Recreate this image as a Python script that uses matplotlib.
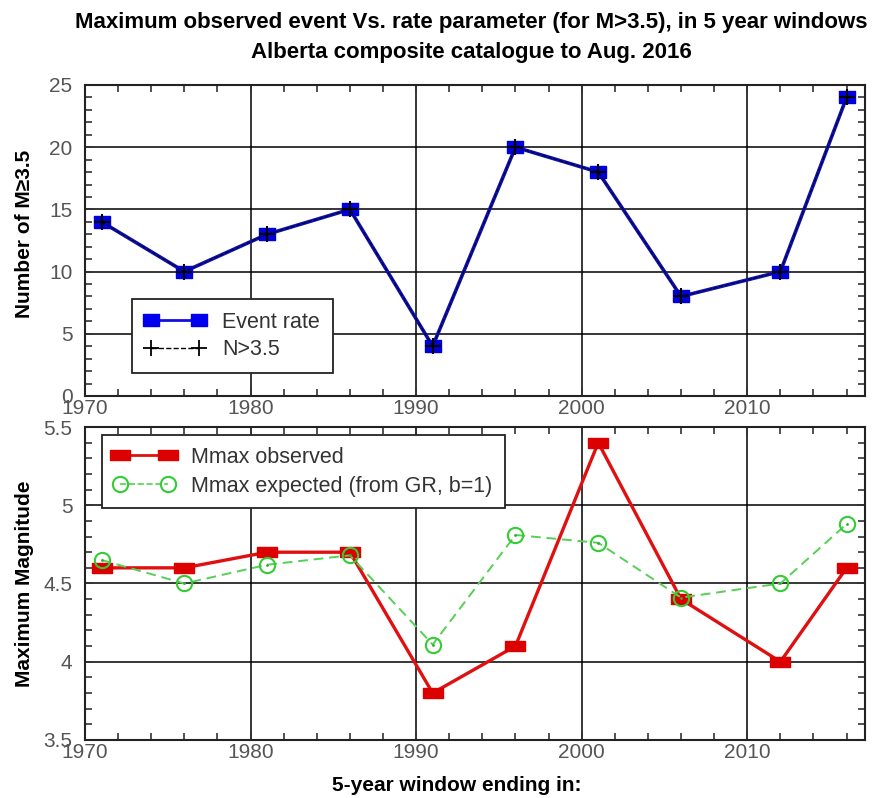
import matplotlib
matplotlib.use("Agg")
import matplotlib.pyplot as plt
from matplotlib.ticker import MultipleLocator
from matplotlib.lines import Line2D

plt.rcParams['font.family'] = ['Liberation Sans', 'DejaVu Sans']

years = [1971, 1976, 1981, 1986, 1991, 1996, 2001, 2006, 2012, 2016]
event_rate = [14, 10, 13, 15, 4, 20, 18, 8, 10, 24]
n_gt = [14, 10, 13, 15, 4, 20, 18, 8, 10, 24]
mmax_obs = [4.6, 4.6, 4.7, 4.7, 3.8, 4.1, 5.4, 4.4, 4.0, 4.6]
mmax_exp = [4.65, 4.50, 4.62, 4.68, 4.11, 4.81, 4.76, 4.41, 4.50, 4.88]

title1 = "Maximum observed event Vs. rate parameter (for M>3.5), in 5 year windows"
title2 = "Alberta composite catalogue to Aug. 2016"

fig = plt.figure(figsize=(8.87, 7.98), dpi=100)
ax1 = fig.add_axes([0.0958, 0.5038, 0.975 - 0.0958, 0.8935 - 0.5038])
ax2 = fig.add_axes([0.0958, 0.0727, 0.975 - 0.0958, 0.4649 - 0.0727])

rect_b = [(-1.3, -1), (1.3, -1), (1.3, 1), (-1.3, 1), (-1.3, -1)]
rect_r = [(-2, -1), (2, -1), (2, 1), (-2, 1), (-2, -1)]

tick_col = '#555555'
for ax in (ax1, ax2):
    ax.set_xlim(1970, 2017.1)
    ax.xaxis.set_major_locator(MultipleLocator(10))
    ax.xaxis.set_minor_locator(MultipleLocator(2))
    ax.grid(True, which='major', color='black', linewidth=1.1)
    ax.tick_params(which='both', direction='in', top=True, right=True,
                   labelsize=15, labelcolor=tick_col, color='#333333')
    ax.tick_params(axis='y', which='major', pad=9)
    ax.tick_params(axis='x', which='major', pad=2)
    ax.tick_params(which='major', length=6, width=1.2)
    ax.tick_params(which='minor', length=5, width=1.2)
    for s in ax.spines.values():
        s.set_linewidth(1.5)
        s.set_color('#222222')
    ax.set_axisbelow(True)

# Top panel
ax1.plot(years, event_rate, color='#1010b0', linewidth=2.6, marker=rect_b,
         markersize=11, markerfacecolor='#0000dd', markeredgecolor='#0000dd', zorder=3)
ax1.plot(years, n_gt, color='#000033', linewidth=0.8, linestyle='--', marker='+',
         markersize=11, markeredgewidth=1.5, markeredgecolor='black', zorder=4)
ax1.set_ylim(0, 25)
ax1.yaxis.set_major_locator(MultipleLocator(5))
ax1.yaxis.set_minor_locator(MultipleLocator(1))
ax1.set_ylabel("Number of M≥3.5", fontsize=15, fontweight='bold')
ax1.yaxis.set_label_coords(-0.066, 0.52)

h1 = [Line2D([], [], color='#1010e0', linewidth=2, linestyle='-', marker=rect_b,
             markersize=11, markerfacecolor='#0000ee', markeredgecolor='#0000ee'),
      Line2D([], [], color='black', linewidth=1, linestyle='--', marker='+',
             markersize=11, markeredgewidth=1.3)]
leg1 = ax1.legend(h1, ["Event rate", "N>3.5"], loc='lower left', numpoints=2,
                  bbox_to_anchor=(0.06, 0.074), fontsize=15.5, frameon=True,
                  fancybox=False, edgecolor='#222222', framealpha=1,
                  handlelength=2.8, borderpad=0.6, labelspacing=0.3, labelcolor='#333333',
                  borderaxespad=0)
leg1.get_frame().set_linewidth(1.3)

# Bottom panel
ax2.plot(years, mmax_obs, color='#e01010', linewidth=2.4, marker=rect_r,
         markersize=14, markerfacecolor='#dd0000', markeredgecolor='#dd0000', zorder=3)
ax2.plot(years, mmax_exp, color='#55d055', linewidth=1.4, linestyle=(0, (5, 3)),
         marker='o', markersize=11, markerfacecolor='none', markeredgecolor='#33cc33',
         markeredgewidth=1.5, zorder=4)
ax2.plot(years, mmax_exp, linestyle='none', marker='.', markersize=2, color='#33aa33', zorder=5)
ax2.set_ylim(3.5, 5.5)
ax2.yaxis.set_major_locator(MultipleLocator(0.5))
ax2.yaxis.set_minor_locator(MultipleLocator(0.1))
ax2.set_yticks([3.5, 4, 4.5, 5, 5.5])
ax2.set_yticklabels(['3.5', '4', '4.5', '5', '5.5'])
ax2.set_ylabel("Maximum Magnitude", fontsize=15, fontweight='bold')
ax2.yaxis.set_label_coords(-0.066, 0.5)
ax2.set_xlabel("5-year window ending in:", fontsize=15, fontweight='bold')
ax2.xaxis.set_label_coords(0.477, -0.115)

h2 = [Line2D([], [], color='#e01010', linewidth=2, linestyle='-', marker=rect_r,
             markersize=14, markerfacecolor='#dd0000', markeredgecolor='#dd0000'),
      Line2D([], [], color='#55d055', linewidth=1.2, linestyle='--', marker='o',
             markersize=11, markerfacecolor='none', markeredgecolor='#33cc33', markeredgewidth=1.5)]
leg2 = ax2.legend(h2, ["Mmax observed", "Mmax expected (from GR, b=1)"], loc='upper left',
                  numpoints=2, bbox_to_anchor=(0.022, 0.974), fontsize=15.5, frameon=True,
                  fancybox=False, edgecolor='#222222', framealpha=1,
                  handlelength=2.8, borderpad=0.55, labelspacing=0.35, labelcolor='#333333',
                  borderaxespad=0)
leg2.get_frame().set_linewidth(1.3)

fig.text(0.531, 0.972, title1, ha='center', va='center', fontsize=16, fontweight='bold')
fig.text(0.531, 0.934, title2, ha='center', va='center', fontsize=16, fontweight='bold')

fig.savefig("out.png", dpi=100)
